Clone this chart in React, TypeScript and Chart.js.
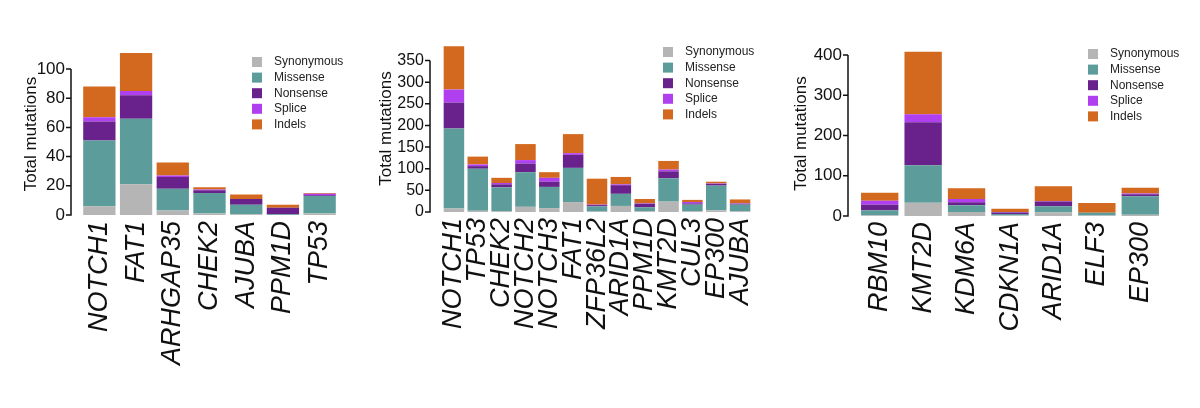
import React, { useEffect, useRef } from "react";
import { Chart, registerables } from "chart.js";
Chart.register(...registerables);

const seriesNames = ["Synonymous", "Missense", "Nonsense", "Splice", "Indels"];
const colors = ["#b5b5b5", "#5c9c9a", "#69218c", "#b03ff0", "#d2691e"];

const genes1 = ["NOTCH1", "FAT1", "ARHGAP35", "CHEK2", "AJUBA", "PPM1D", "TP53"];
const syn1 = [6, 21, 3, 1, 0.5, 0, 1];
const mis1 = [45, 45, 15, 14, 6.5, 0.5, 12];
const non1 = [13, 16, 8, 2, 4, 4.5, 0.5];
const spl1 = [3, 3, 1, 0.5, 0, 0, 1];
const ind1 = [21, 26, 9, 1.5, 3, 2, 0.5];

const genes2 = ["NOTCH1", "TP53", "CHEK2", "NOTCH2", "NOTCH3", "FAT1", "ZFP36L2", "ARID1A", "PPM1D", "KMT2D", "CUL3", "EP300", "AJUBA"];
const syn2 = [8, 3, 2, 12, 9, 23, 1, 14, 2, 24, 2, 4, 2];
const mis2 = [185, 97, 55, 80, 49, 79, 12, 28, 9, 54, 15, 57, 15];
const non2 = [60, 6, 7, 20, 12, 30, 3, 20, 8, 16, 3, 4, 2];
const spl2 = [30, 4, 3, 8, 9, 4, 1, 2, 1, 4, 3, 1, 1];
const ind2 = [100, 18, 12, 37, 13, 44, 60, 17, 10, 20, 5, 4, 9];

const genes3 = ["RBM10", "KMT2D", "KDM6A", "CDKN1A", "ARID1A", "ELF3", "EP300"];
const syn3 = [2, 33, 10, 1, 9, 1, 3];
const mis3 = [12, 93, 17, 4, 15, 7, 46];
const non3 = [14, 107, 7, 4, 12, 0, 5];
const spl3 = [10, 20, 8, 1, 1, 0, 2];
const ind3 = [20, 155, 27, 8, 37, 24, 14];

const FONT = "'Liberation Sans', Arial, sans-serif";

type Panel = {
  genes: string[]; data: number[][]; max: number; step: number; bp: number; tickSize: number;
  left: number; width: number; axisX: number; areaL: number; right: number; top: number; zero: number;
  titleX: number; legX: number; legY: number;
};

const panels: Panel[] = [
  { genes: genes1, data: [syn1, mis1, non1, spl1, ind1], max: 111, step: 20, bp: 0.88, tickSize: 17, left: 0, width: 365, axisX: 71, areaL: 81, right: 338, top: 53, zero: 215, titleX: 30, legX: 252, legY: 70 },
  { genes: genes2, data: [syn2, mis2, non2, spl2, ind2], max: 386, step: 50, bp: 0.86, tickSize: 16, left: 365, width: 420, axisX: 430, areaL: 442, right: 752, top: 45, zero: 212, titleX: 385, legX: 663, legY: 60 },
  { genes: genes3, data: [syn3, mis3, non3, spl3, ind3], max: 410, step: 100, bp: 0.86, tickSize: 17, left: 785, width: 415, axisX: 848, areaL: 858, right: 1162, top: 51, zero: 216, titleX: 800, legX: 1088, legY: 62 },
];

function PanelChart({ p }: { p: Panel }) {
  const ref = useRef<HTMLCanvasElement>(null);
  useEffect(() => {
    const yW = p.areaL - p.titleX + 9;
    const gap = p.areaL - p.axisX;
    const legendPlugin = {
      id: "customLegend",
      afterDraw(chart: any) {
        const ctx = chart.ctx;
        const ys = chart.scales.y;
        const ax = chart.chartArea.left - gap;
        ctx.save();
        ctx.strokeStyle = "#111";
        ctx.lineWidth = 1.5;
        ctx.beginPath();
        ctx.moveTo(ax, ys.getPixelForValue(0) + 0.75);
        ctx.lineTo(ax, ys.getPixelForValue(Math.floor(p.max / p.step) * p.step));
        for (let v = 0; v <= p.max; v += p.step) {
          const y = ys.getPixelForValue(v);
          ctx.moveTo(ax - 5, y);
          ctx.lineTo(ax, y);
        }
        ctx.stroke();
        ctx.font = `12px ${FONT}`;
        ctx.textBaseline = "middle";
        seriesNames.forEach((n, i) => {
          const y = p.legY - 8 + i * 15.6;
          ctx.fillStyle = colors[i];
          ctx.fillRect(p.legX - p.left, y - 5, 10, 10);
          ctx.fillStyle = "#222";
          ctx.fillText(n, p.legX - p.left + 22, y);
        });
        ctx.restore();
      },
    };
    const chart = new Chart(ref.current!, {
      type: "bar",
      data: {
        labels: p.genes,
        datasets: seriesNames.map((n, i) => ({
          label: n, data: p.data[i], backgroundColor: colors[i],
          barPercentage: p.bp, categoryPercentage: 1, borderWidth: 0,
        })),
      },
      options: {
        animation: false, responsive: false,
        layout: { padding: { left: p.areaL - p.left - yW, right: p.left + p.width - p.right, top: p.top, bottom: 0 } },
        plugins: { legend: { display: false }, tooltip: { enabled: false } },
        scales: {
          x: {
            stacked: true, grid: { display: false, drawTicks: false }, border: { display: false },
            ticks: { minRotation: 90, maxRotation: 90, autoSkip: false, color: "#111", padding: 6, font: { family: FONT, size: 27, style: "italic" } },
            afterFit: (s: any) => { s.height = 408 - p.zero; },
          },
          y: {
            stacked: true, min: 0, max: p.max,
            grid: { display: false, drawTicks: true, tickLength: gap + 5, tickColor: "rgba(0,0,0,0)" },
            border: { display: false },
            ticks: { color: "#111", padding: 1, font: { family: FONT, size: p.tickSize } },
            afterBuildTicks: (s: any) => {
              const t: any[] = [];
              for (let v = 0; v <= p.max; v += p.step) t.push({ value: v });
              s.ticks = t;
            },
            title: { display: true, text: "Total mutations", color: "#111", font: { family: FONT, size: 17 }, padding: 0 },
            afterFit: (s: any) => { s.width = yW; },
          },
        },
      },
      plugins: [legendPlugin],
    });
    return () => chart.destroy();
  }, []);
  return (
    <canvas ref={ref} width={p.width} height={408}
      style={{ position: "absolute", left: p.left, top: 0, width: p.width, height: 408 }} />
  );
}

export default function App() {
  return (
    <div style={{ position: "absolute", left: 0, top: 0, width: 1200, height: 408, background: "#fff" }}>
      {panels.map((p, i) => <PanelChart key={i} p={p} />)}
    </div>
  );
}
